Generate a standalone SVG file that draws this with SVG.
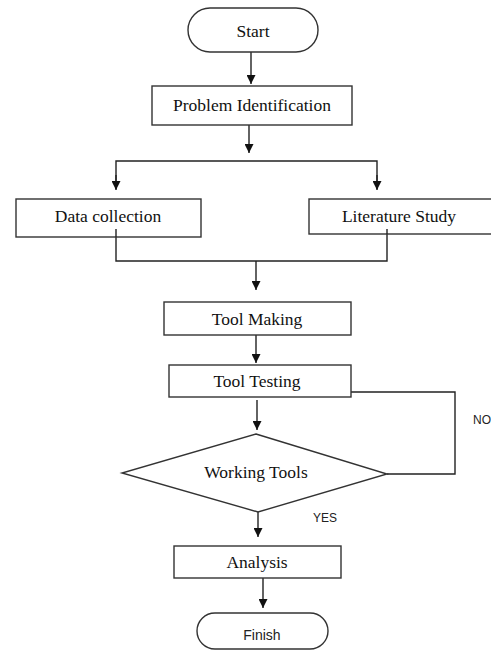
<svg xmlns="http://www.w3.org/2000/svg" width="491" height="652" viewBox="0 0 491 652">
<defs>
<marker id="ah" viewBox="0 0 10 10" refX="10" refY="5" markerWidth="9" markerHeight="9" markerUnits="userSpaceOnUse" orient="auto">
<path d="M0,0 L10,5 L0,10 z" fill="#111"/>
</marker>
<style>
.shape{fill:#fff;stroke:#333;stroke-width:1.4}
.t{font-family:"Liberation Serif","Times New Roman",serif;font-size:17.5px;fill:#111;text-anchor:middle}
.s{font-family:"Liberation Sans",Arial,sans-serif;font-size:12px;fill:#222;text-anchor:middle}
.c{fill:none;stroke:#222;stroke-width:1.4}
</style>
</defs>
<rect width="491" height="652" fill="#fff"/>
<g id="connectors">
<line class="c" x1="251" y1="52" x2="251" y2="84" marker-end="url(#ah)"/>
<line class="c" x1="249" y1="125" x2="249" y2="153" marker-end="url(#ah)"/>
<polyline class="c" points="116,189 116,161 377,161 377,189"/>
<line class="c" x1="116" y1="175" x2="116" y2="190" marker-end="url(#ah)"/>
<line class="c" x1="377" y1="175" x2="377" y2="190" marker-end="url(#ah)"/>
<polyline class="c" points="116,230 116,261 387,261 387,230"/>
<line class="c" x1="256" y1="261" x2="256" y2="290" marker-end="url(#ah)"/>
<line class="c" x1="256" y1="335" x2="256" y2="363" marker-end="url(#ah)"/>
<line class="c" x1="257" y1="400" x2="257" y2="430" marker-end="url(#ah)"/>
<polyline class="c" points="351,392 455,392 455,474 387,474"/>
<line class="c" x1="258" y1="512" x2="258" y2="537" marker-end="url(#ah)"/>
<line class="c" x1="263" y1="578" x2="263" y2="608" marker-end="url(#ah)"/>
<text class="s" x="482" y="424">NO</text>
<text class="s" x="325" y="522">YES</text>
</g>
<g id="start">
<rect class="shape" x="188" y="8" width="130" height="44" rx="22"/>
<text class="t" x="253" y="37">Start</text>
</g>
<g id="problem">
<rect class="shape" x="152" y="86" width="200" height="39"/>
<text class="t" x="252" y="111">Problem Identification</text>
</g>
<g id="data">
<rect class="shape" x="16" y="199" width="185" height="38"/>
<rect x="115.3" y="229" width="1.4" height="8" fill="#222"/>
<text class="t" x="108" y="222">Data collection</text>
</g>
<g id="literature">
<rect class="shape" x="309" y="199" width="190" height="35"/>
<rect x="386.3" y="229" width="1.4" height="5" fill="#222"/>
<text class="t" x="399" y="222">Literature Study</text>
</g>
<g id="making">
<rect class="shape" x="164" y="302" width="187" height="33"/>
<text class="t" x="257" y="325">Tool Making</text>
</g>
<g id="testing">
<rect class="shape" x="169" y="365" width="182" height="32"/>
<text class="t" x="257" y="387">Tool Testing</text>
</g>
<g id="working">
<polygon class="shape" points="256,434 387,474 258,512 122,473"/>
<text class="t" x="256" y="478">Working Tools</text>
</g>
<g id="analysis">
<rect class="shape" x="174" y="546" width="167" height="32"/>
<text class="t" x="257" y="568">Analysis</text>
</g>
<g id="finish">
<rect class="shape" x="197" y="613" width="131" height="36" rx="18"/>
<text class="s" x="262" y="640" style="font-size:14px">Finish</text>
</g>
</svg>
